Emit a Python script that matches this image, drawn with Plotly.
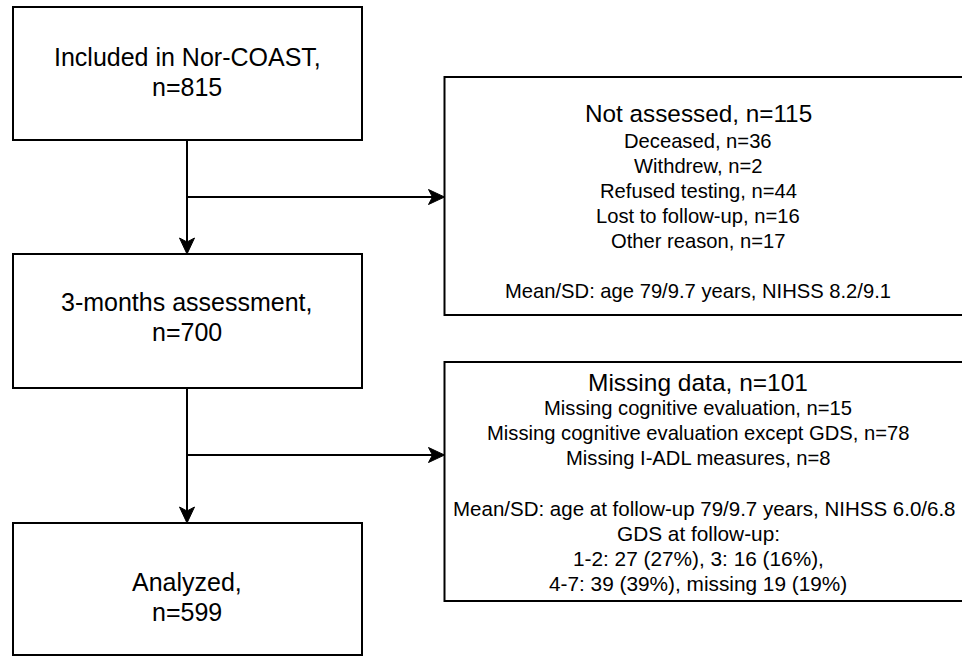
import plotly.graph_objects as go

# ---------------- data ----------------
stage_labels = ["Included in Nor-COAST,", "3-months assessment,", "Analyzed,"]
stage_n = [815, 700, 599]

excl1_title = "Not assessed"
excl1_n = 115
excl1_reasons = ["Deceased", "Withdrew", "Refused testing", "Lost to follow-up", "Other reason"]
excl1_counts = [36, 2, 44, 16, 17]
excl1_summary = ["Mean/SD: age 79/9.7 years, NIHSS 8.2/9.1"]

excl2_title = "Missing data"
excl2_n = 101
excl2_reasons = ["Missing cognitive evaluation",
                 "Missing cognitive evaluation except GDS",
                 "Missing I-ADL measures"]
excl2_counts = [15, 78, 8]
excl2_summary = ["Mean/SD: age at follow-up 79/9.7 years, NIHSS 6.0/6.8",
                 "GDS at follow-up:",
                 "1-2: 27 (27%), 3: 16 (16%),",
                 "4-7: 39 (39%), missing 19 (19%)"]

# ---------------- layout geometry ----------------
W, H = 962, 658
FONT = "Liberation Sans, Arial, Helvetica, sans-serif"
LW = 2
COL = "#000000"

left_x0, left_x1 = 13, 362
left_boxes_y = [(7, 140), (254, 388), (523, 655)]
left_text_y = [(57, 87), (302, 332), (582, 612)]
trunk_x = 187

right_x0, right_x1 = 444.5, 1010
right_boxes_y = [(77, 315), (362, 601)]
branch_y = [197, 455]
right_cx = 698

shapes = []
annotations = []


def rect(x0, y0, x1, y1):
    shapes.append(dict(type="rect", xref="x", yref="y", x0=x0, y0=y0, x1=x1, y1=y1,
                       line=dict(color=COL, width=LW), fillcolor="rgba(0,0,0,0)"))


def line(x0, y0, x1, y1):
    shapes.append(dict(type="line", xref="x", yref="y", x0=x0, y0=y0, x1=x1, y1=y1,
                       line=dict(color=COL, width=LW)))


def head(tx, ty, direction):
    L, hw, notch = 16, 7.5, 4
    if direction == "down":
        p = f"M{tx},{ty} L{tx-hw},{ty-L} L{tx},{ty-L+notch} L{tx+hw},{ty-L} Z"
    else:  # right
        p = f"M{tx},{ty} L{tx-L},{ty-hw} L{tx-L+notch},{ty} L{tx-L},{ty+hw} Z"
    shapes.append(dict(type="path", xref="x", yref="y", path=p,
                       fillcolor=COL, line=dict(color=COL, width=1)))


def text(x, y, s, size, anchor="center"):
    annotations.append(dict(x=x, y=y, xref="x", yref="y", text=s, showarrow=False,
                            xanchor=anchor, yanchor="middle",
                            font=dict(family=FONT, size=size, color=COL)))


# left column boxes
for (y0, y1), (t1, t2), lab, n in zip(left_boxes_y, left_text_y, stage_labels, stage_n):
    rect(left_x0, y0, left_x1, y1)
    text(trunk_x, t1, lab, 25)
    text(trunk_x, t2, f"n={n}", 25)

# vertical connectors with arrows
for i in range(2):
    ya = left_boxes_y[i][1]
    yb = left_boxes_y[i + 1][0]
    line(trunk_x, ya, trunk_x, yb - 6)
    head(trunk_x, yb, "down")
    line(trunk_x, branch_y[i], right_x0 - 6, branch_y[i])
    head(right_x0, branch_y[i], "right")

# right boxes
for (y0, y1) in right_boxes_y:
    rect(right_x0, y0, right_x1, y1)

# box 1 text
text(right_cx, 113, f"{excl1_title}, n={excl1_n}", 24.3)
y = 141
for r, c in zip(excl1_reasons, excl1_counts):
    text(right_cx, y, f"{r}, n={c}", 20.2)
    y += 25
y += 25
for s in excl1_summary:
    text(right_cx, y, s, 20.2)
    y += 25

# box 2 text
text(right_cx, 382, f"{excl2_title}, n={excl2_n}", 24.5)
y = 408
for r, c in zip(excl2_reasons, excl2_counts):
    text(right_cx, y, f"{r}, n={c}", 20.2)
    y += 25
y += 25.5
for i, s in enumerate(excl2_summary):
    if i == 0:
        text(451, y, s, 20.5, anchor="left")
    else:
        text(right_cx, y, s, 20.8)
    y += 25

fig = go.Figure()
fig.update_layout(
    width=W, height=H,
    margin=dict(l=0, r=0, t=0, b=0, autoexpand=False),
    paper_bgcolor="white", plot_bgcolor="white",
    xaxis=dict(range=[0, W], visible=False, fixedrange=True),
    yaxis=dict(range=[H, 0], visible=False, fixedrange=True),
    shapes=shapes, annotations=annotations,
    showlegend=False,
)
fig.write_html("out.html", config={"displayModeBar": False},
               post_script="document.body.style.margin='0';document.body.style.overflow='hidden';")
